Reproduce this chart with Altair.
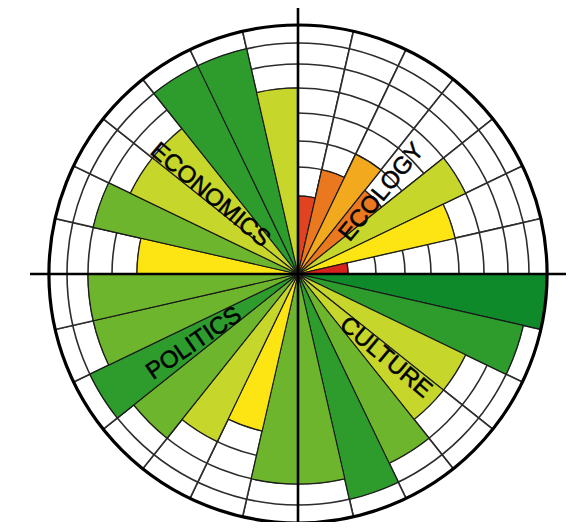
import math
import altair as alt
import pandas as pd

# ---- data ----
domains = ["Ecology", "Culture", "Politics", "Economics"]
ecology = [2, 3, 4, 3, 6, 5, 1]
culture = [9, 8, 6, 6, 7, 8, 7]
politics = [7, 5, 6, 7, 8, 7, 7]
economics = [5, 7, 6, 6, 8, 8, 6]
levels = [1, 2, 3, 4, 5, 6, 7, 8, 9]
level_colors = ["#d8221e", "#e1421f", "#e9781f", "#f2a91d", "#fde514",
                "#c6d62a", "#6db52d", "#2e9c2d", "#0e8a2b"]
labels = ["ECOLOGY", "CULTURE", "POLITICS", "ECONOMICS"]

rows = []
k = 0
for d, vals in zip(domains, [ecology, culture, politics, economics]):
    for v in vals:
        rows.append({"domain": d, "start": k, "end": k + 1, "value": v, "full": 9})
        k += 1
df = pd.DataFrame(rows)
rings_df = pd.DataFrame({"ring": levels[:-1]})
outer_df = pd.DataFrame({"ring": [levels[-1]]})

# ---- layout ----
CX, CY = 290, 266
W, H = 558, 514
TAU = 2 * math.pi
ring_px = [0, 50, 78, 107, 133, 161, 186, 210, 231, 249]
rscale = alt.Scale(type="linear", domain=list(range(10)), range=ring_px)
tscale = alt.Scale(domain=[0, 28], range=[0, TAU])
cscale = alt.Scale(domain=levels, range=level_colors)
GRID = "#2c2c2c"

theta = alt.Theta("start:Q", scale=tscale, stack=False)
theta2 = alt.Theta2("end:Q")

grid_wedges = alt.Chart(df).mark_arc(fill="white", stroke=GRID, strokeWidth=1.6).encode(
    theta=theta, theta2=theta2,
    radius=alt.Radius("full:Q", scale=rscale, stack=False),
    x=alt.value(CX), y=alt.value(CY),
)

grid_rings = alt.Chart(rings_df).mark_arc(
    theta=0, theta2=TAU, fillOpacity=0, stroke=GRID, strokeWidth=1.6
).encode(
    radius=alt.Radius("ring:Q", scale=rscale, stack=False),
    x=alt.value(CX), y=alt.value(CY),
)

bars = alt.Chart(df).mark_arc(stroke="#1a1a1a", strokeWidth=1.1).encode(
    theta=theta, theta2=theta2,
    radius=alt.Radius("value:Q", scale=rscale, stack=False),
    color=alt.Color("value:O", scale=cscale, legend=None),
    x=alt.value(CX), y=alt.value(CY),
)

outer = alt.Chart(outer_df).mark_arc(
    theta=0, theta2=TAU, fillOpacity=0, stroke="black", strokeWidth=3.2
).encode(
    radius=alt.Radius("ring:Q", scale=rscale, stack=False),
    x=alt.value(CX), y=alt.value(CY),
)

one = pd.DataFrame({"a": [0]})
hline = alt.Chart(one).mark_rule(color="black", strokeWidth=2.6).encode(
    x=alt.value(22), x2=alt.value(W), y=alt.value(CY)
)
vline = alt.Chart(one).mark_rule(color="black", strokeWidth=2.6).encode(
    x=alt.value(CX), y=alt.value(0), y2=alt.value(H)
)

label_pos = [(45.7, 117, 309.5), (133.7, 121, 40), (236.2, 125, 325.5), (311.9, 118, 40)]
label_layers = []
for lab, (th, rr, ang) in zip(labels, label_pos):
    label_layers.append(
        alt.Chart(pd.DataFrame({"label": [lab]})).mark_text(
            theta=math.radians(th), radius=rr, angle=ang, fontSize=24,
            font="Liberation Sans", color="black", stroke="black", strokeWidth=0.5,
            align="center", baseline="middle"
        ).encode(x=alt.value(CX), y=alt.value(CY), text="label:N")
    )

chart = alt.layer(grid_wedges, grid_rings, bars, outer, hline, vline, *label_layers).properties(
    width=W, height=H, padding=0, autosize=alt.AutoSizeParams(type="none")
).configure_view(strokeWidth=0)

chart.save("out.html", embed_options={"renderer": "svg", "actions": False})
